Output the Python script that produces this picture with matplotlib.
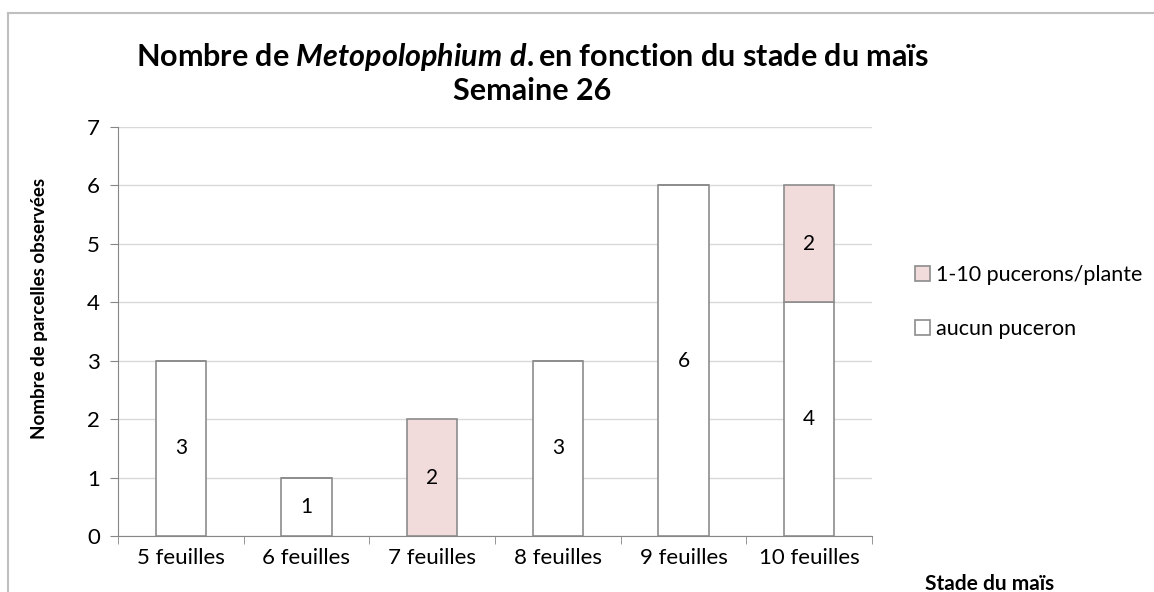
import numpy as np
import matplotlib
matplotlib.use('Agg')
import matplotlib.pyplot as plt
from matplotlib.lines import Line2D

plt.rcParams['font.family'] = ['Lato', 'DejaVu Sans']
plt.rcParams['mathtext.fontset'] = 'custom'
plt.rcParams['mathtext.it'] = 'Lato:italic:bold'
plt.rcParams['mathtext.rm'] = 'Lato:bold'

stades = ['5 feuilles', '6 feuilles', '7 feuilles', '8 feuilles', '9 feuilles', '10 feuilles']
aucun = [3, 1, 0, 3, 6, 4]
peu = [0, 0, 2, 0, 0, 2]
legend_labels = ['1-10 pucerons/plante', 'aucun puceron']
yticks = [0, 1, 2, 3, 4, 5, 6, 7]

W, H = 1154, 592
fig = plt.figure(figsize=(W / 100, H / 100), dpi=100)
ax = fig.add_axes([118 / W, 1 - 536 / H, (872 - 118) / W, (536 - 127) / H])

x = np.arange(len(stades))
edge = '#8c8c8c'
b1 = ax.bar(x, aucun, 0.4, color='white', edgecolor=edge, linewidth=1.2, zorder=3)
b2 = ax.bar(x, peu, 0.4, bottom=aucun, color='#f2dcdb', edgecolor=edge, linewidth=1.2, zorder=3)

for i in range(len(stades)):
    if aucun[i] > 0:
        ax.text(x[i], aucun[i] / 2, str(aucun[i]), ha='center', va='center', fontsize=15, zorder=4)
    if peu[i] > 0:
        ax.text(x[i], aucun[i] + peu[i] / 2, str(peu[i]), ha='center', va='center', fontsize=15, zorder=4)

ax.set_xlim(-0.5, len(stades) - 0.5)
ax.set_ylim(0, 7)
ax.set_yticks(yticks)
ax.set_xticks(x)
ax.set_xticklabels(stades)
ax.set_xticks(np.arange(len(stades) + 1) - 0.5, minor=True)
ax.tick_params(axis='x', which='major', length=0, labelsize=16, pad=9)
ax.tick_params(axis='x', which='minor', length=6, color='#868686', direction='out')
ax.tick_params(axis='y', length=6, color='#868686', labelsize=16, pad=7)
ax.grid(axis='y', color='#d9d9d9', linewidth=1, zorder=0)
for s in ['top', 'right']:
    ax.spines[s].set_visible(False)
ax.spines['left'].set_color('#868686')
ax.spines['bottom'].set_color('#868686')

fig.text(532 / W, 1 - 57 / H, 'Nombre de $\\mathit{Metopolophium\\ d.}$en fonction du stade du maïs',
         ha='center', va='center', fontsize=22, fontweight='bold')
fig.text(532 / W, 1 - 91 / H, 'Semaine 26', ha='center', va='center', fontsize=22, fontweight='bold')
fig.text(40 / W, 1 - 308 / H, 'Nombre de parcelles observées', rotation=90,
         ha='center', va='center', fontsize=13.5, fontweight='bold')
fig.text(990 / W, 1 - 584 / H, 'Stade du maïs', ha='center', va='center', fontsize=15, fontweight='bold')

fig.legend([b2, b1], legend_labels, loc='center left', bbox_to_anchor=(906 / W, 1 - 302 / H),
           frameon=False, fontsize=15.5, handlelength=0.7, handleheight=0.7, handletextpad=0.3,
           labelspacing=1.6, borderaxespad=0)

fig.add_artist(Line2D([8 / W, 8 / W], [0, 1 - 13 / H], color='#bfbfbf', linewidth=1.5, transform=fig.transFigure))
fig.add_artist(Line2D([8 / W, 1], [1 - 13 / H, 1 - 13 / H], color='#bfbfbf', linewidth=1.5, transform=fig.transFigure))

fig.savefig('out.png', dpi=100)
